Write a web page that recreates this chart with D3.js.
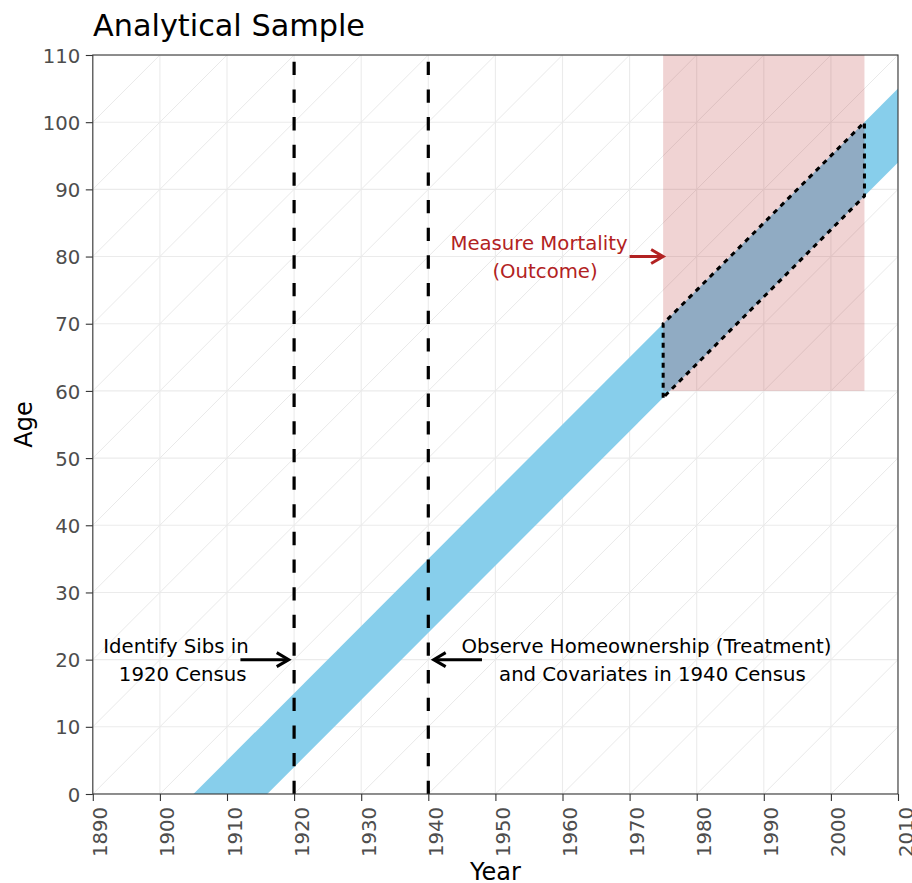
<!DOCTYPE html>
<html>
<head>
<meta charset="utf-8">
<script src="https://cdn.jsdelivr.net/npm/d3@7"></script>
<style>
  body { margin: 0; background: #fff; }
  text { font-family: "DejaVu Sans", sans-serif; }
</style>
</head>
<body>
<div id="chart"></div>
<script>
// ---- data ----
const yearTicks = [1890, 1900, 1910, 1920, 1930, 1940, 1950, 1960, 1970, 1980, 1990, 2000, 2010];
const ageTicks = [0, 10, 20, 30, 40, 50, 60, 70, 80, 90, 100, 110];

// cohort lines of the Lexis grid (birth years)
const cohortLines = [1780, 1790, 1800, 1810, 1820, 1830, 1840, 1850, 1860, 1870, 1880,
                     1890, 1900, 1910, 1920, 1930, 1940, 1950, 1960, 1970, 1980, 1990, 2000];

// birth cohorts band (born 1905 - 1916)
const bandYears = [1905, 2010, 2010, 1916];
const bandAges  = [0, 105, 94, 0];

// mortality window
const mortYears = [1975, 2005];
const mortAges  = [60, 110];

// analytical sample (dotted)
const sampleYears = [1975, 1975, 2005, 2005, 1975];
const sampleAges  = [59, 70, 100, 89, 59];

// census years
const censusYears = [1920, 1940];

// arrows
const arrowFrom = [1912, 1948, 1970];
const arrowTo   = [1919.2, 1940.8, 1975];
const arrowAge  = [20, 20, 80];
const arrowColor = ['#000000', '#000000', '#b22222'];

// annotation lines
const noteText  = ['Identify Sibs in', '1920 Census',
                   'Observe Homeownership (Treatment)', 'and Covariates in 1940 Census',
                   'Measure Mortality', '(Outcome)'];
const noteYear  = [1902.4, 1903.4, 1972.5, 1973.4, 1956.5, 1957.4];
const noteAge   = [20, 20, 20, 20, 80, 80];
const noteLine  = [0, 1, 0, 1, 0, 1];
const noteColor = ['#000', '#000', '#000', '#000', '#b22222', '#b22222'];

// ---- layout ----
const width = 912;
const height = 883;
const margin = { top: 55, right: 14, bottom: 89, left: 92.8 };
const fs = 19.7;

const x = d3.scaleLinear().domain([1890, 2010]).range([margin.left, width - margin.right]);
const y = d3.scaleLinear().domain([0, 110]).range([height - margin.bottom, margin.top]);

const svg = d3.select('#chart').append('svg')
    .attr('width', width)
    .attr('height', height);

svg.append('defs').append('clipPath').attr('id', 'panel')
    .append('rect')
    .attr('x', x(1890)).attr('y', y(110))
    .attr('width', x(2010) - x(1890)).attr('height', y(0) - y(110));

const panel = svg.append('g').attr('clip-path', 'url(#panel)');

// gridlines
panel.append('g').selectAll('line').data(yearTicks).join('line')
    .attr('x1', d => x(d)).attr('x2', d => x(d))
    .attr('y1', y(0)).attr('y2', y(110))
    .attr('stroke', '#ebebeb').attr('stroke-width', 1.1);

panel.append('g').selectAll('line').data(ageTicks).join('line')
    .attr('x1', x(1890)).attr('x2', x(2010))
    .attr('y1', d => y(d)).attr('y2', d => y(d))
    .attr('stroke', '#ebebeb').attr('stroke-width', 1.1);

// diagonal cohort lines
panel.append('g').selectAll('line').data(cohortLines).join('line')
    .attr('x1', d => x(d)).attr('y1', y(0))
    .attr('x2', d => x(d + 110)).attr('y2', y(110))
    .attr('stroke', '#e9e9e9').attr('stroke-width', 1);

// blue cohort band
const line = d3.line().x(d => x(d[0])).y(d => y(d[1]));
panel.append('path')
    .attr('d', line(d3.zip(bandYears, bandAges)) + 'Z')
    .attr('fill', '#87ceeb');

// mortality window
panel.append('rect')
    .attr('x', x(mortYears[0])).attr('y', y(mortAges[1]))
    .attr('width', x(mortYears[1]) - x(mortYears[0]))
    .attr('height', y(mortAges[0]) - y(mortAges[1]))
    .attr('fill', '#b22222').attr('fill-opacity', 0.2);

// census lines
panel.append('g').selectAll('line').data(censusYears).join('line')
    .attr('x1', d => x(d)).attr('x2', d => x(d))
    .attr('y1', y(0)).attr('y2', y(110))
    .attr('stroke', '#000').attr('stroke-width', 3.2)
    .attr('stroke-dasharray', '13.3,14.35');

// analytical sample outline
panel.append('path')
    .attr('d', line(d3.zip(sampleYears, sampleAges)))
    .attr('fill', 'none')
    .attr('stroke', '#000').attr('stroke-width', 3)
    .attr('stroke-dasharray', '5,5');

// arrows
arrowFrom.forEach((a, i) => {
    const x0 = x(a), x1 = x(arrowTo[i]), yy = y(arrowAge[i]);
    const dir = Math.sign(x1 - x0);
    const g = panel.append('g').attr('stroke', arrowColor[i]).attr('stroke-width', 3).attr('fill', 'none');
    g.append('line').attr('x1', x0).attr('x2', x1 - dir * 1.5).attr('y1', yy).attr('y2', yy);
    g.append('path')
        .attr('d', `M${x1 - dir * 12},${yy - 7}L${x1},${yy}L${x1 - dir * 12},${yy + 7}`)
        .attr('stroke-linejoin', 'miter');
});

// annotation text
svg.append('g').selectAll('text').data(noteText).join('text')
    .attr('x', (d, i) => x(noteYear[i]))
    .attr('y', (d, i) => y(noteAge[i]) + (noteLine[i] === 0 ? -7 : 21))
    .attr('text-anchor', 'middle')
    .attr('font-size', fs)
    .attr('fill', (d, i) => noteColor[i])
    .text(d => d);

// panel border
svg.append('rect')
    .attr('x', x(1890)).attr('y', y(110))
    .attr('width', x(2010) - x(1890)).attr('height', y(0) - y(110))
    .attr('fill', 'none').attr('stroke', '#333').attr('stroke-width', 1.1);

// axes
const xAxis = svg.append('g')
    .attr('transform', `translate(0, ${y(0)})`)
    .call(d3.axisBottom(x).tickValues(yearTicks).tickFormat(d3.format('d')).tickSize(7));
xAxis.select('.domain').remove();
xAxis.selectAll('line').attr('stroke', '#333').attr('stroke-width', 1.1);
xAxis.selectAll('text')
    .attr('transform', 'rotate(-90)')
    .attr('text-anchor', 'end')
    .attr('x', -13).attr('y', 14).attr('dy', null)
    .attr('font-size', fs)
    .attr('font-family', '"DejaVu Sans", sans-serif')
    .attr('fill', '#4d4d4d');

const yAxis = svg.append('g')
    .attr('transform', `translate(${x(1890)}, 0)`)
    .call(d3.axisLeft(y).tickValues(ageTicks).tickSize(7));
yAxis.select('.domain').remove();
yAxis.selectAll('line').attr('stroke', '#333').attr('stroke-width', 1.1);
yAxis.selectAll('text')
    .attr('x', -12.5).attr('dy', '0.36em')
    .attr('font-size', fs)
    .attr('font-family', '"DejaVu Sans", sans-serif')
    .attr('fill', '#4d4d4d');

// titles
svg.append('text')
    .attr('x', (x(1890) + x(2010)) / 2).attr('y', 880)
    .attr('text-anchor', 'middle').attr('font-size', 24)
    .text('Year');

svg.append('text')
    .attr('transform', `translate(32, ${(y(0) + y(110)) / 2}) rotate(-90)`)
    .attr('text-anchor', 'middle').attr('font-size', 24)
    .text('Age');

svg.append('text')
    .attr('x', 93).attr('y', 36)
    .attr('font-size', 30.3)
    .text('Analytical Sample');
</script>
</body>
</html>
